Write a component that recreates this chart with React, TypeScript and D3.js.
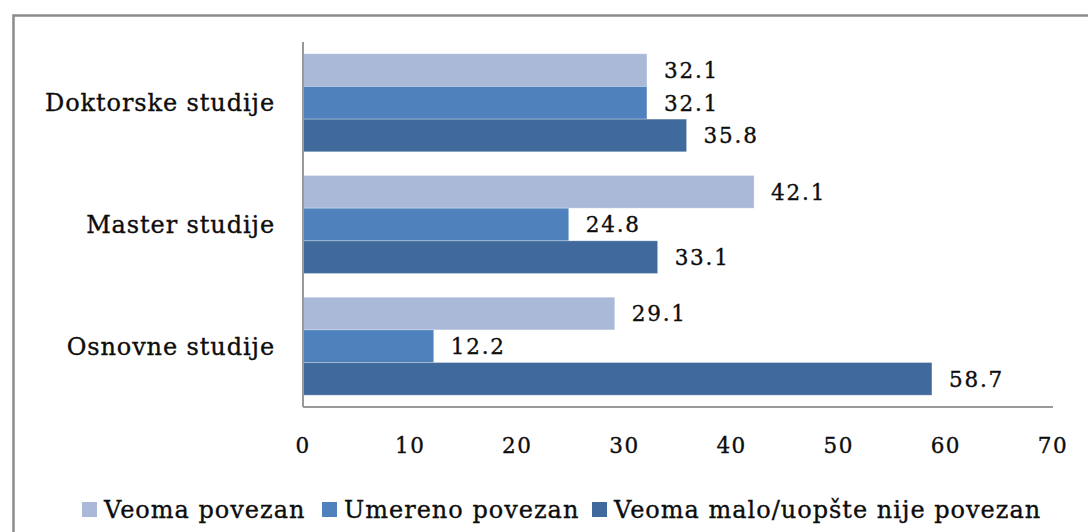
import React, { useEffect, useRef } from "react";
import * as d3 from "d3";

const categories = ["Doktorske studije", "Master studije", "Osnovne studije"];
const seriesNames = ["Veoma povezan", "Umereno povezan", "Veoma malo/uopšte nije povezan"];
const veomaPovezan = [32.1, 42.1, 29.1];
const umerenoPovezan = [32.1, 24.8, 12.2];
const veomaMalo = [35.8, 33.1, 58.7];
const xTicks = [0, 10, 20, 30, 40, 50, 60, 70];

const colors = ["#aab9d7", "#4f81bd", "#416a9c"];
const font = "'DejaVu Serif', 'Liberation Serif', serif";

// slightly heavier text, like the original
const styleText = (sel, size, spacing) =>
    sel.attr("font-family", font)
        .attr("font-size", size)
        .attr("letter-spacing", spacing)
        .attr("fill", "#0d0d0d")
        .attr("stroke", "#0d0d0d")
        .attr("stroke-width", 0.35);

const App = () => {
    const svgRef = useRef(null);

    useEffect(() => {
        const svg = d3.select(svgRef.current);
        svg.selectAll("*").remove();

        const width = 1088;
        const height = 532;
        const left = 303;
        const right = 1053;
        const top = 42;
        const bottom = 407;

        // outer frame (runs off the right and bottom edges)
        svg.append("rect")
            .attr("x", 13.5)
            .attr("y", 15.5)
            .attr("width", width)
            .attr("height", height)
            .attr("fill", "none")
            .attr("stroke", "#8c8c8c")
            .attr("stroke-width", 2.5);

        const x = d3.scaleLinear().domain([0, 70]).range([left, right]);
        const y = d3.scaleBand().domain(categories).range([top, bottom]).paddingInner(0.195).paddingOuter(0.097);
        const inner = d3.scaleBand().domain(["0", "1", "2"]).range([0, y.bandwidth()]);

        const series = [veomaPovezan, umerenoPovezan, veomaMalo];

        series.forEach((vals, si) => {
            const g = svg.append("g");
            g.selectAll("rect")
                .data(vals)
                .enter()
                .append("rect")
                .attr("x", x(0))
                .attr("y", (d, i) => y(categories[i]) + inner(String(si)))
                .attr("width", (d) => x(d) - x(0))
                .attr("height", inner.bandwidth())
                .attr("fill", colors[si])
                .attr("stroke", "rgba(255,255,255,0.35)")
                .attr("stroke-width", 0.8);

            g.selectAll("text")
                .data(vals)
                .enter()
                .append("text")
                .attr("x", (d) => x(d) + 17)
                .attr("y", (d, i) => y(categories[i]) + inner(String(si)) + inner.bandwidth() / 2)
                .attr("dy", "0.36em")
                .call(styleText, 21.5, 1.8)
                .text((d) => d.toFixed(1));
        });

        // axes
        svg.append("line")
            .attr("x1", left).attr("x2", left)
            .attr("y1", top).attr("y2", bottom)
            .attr("stroke", "#999").attr("stroke-width", 2);
        svg.append("line")
            .attr("x1", left).attr("x2", right)
            .attr("y1", bottom).attr("y2", bottom)
            .attr("stroke", "#999").attr("stroke-width", 2);

        svg.append("g")
            .selectAll("text")
            .data(xTicks)
            .enter()
            .append("text")
            .attr("x", (d) => x(d))
            .attr("y", 445)
            .attr("dy", "0.36em")
            .attr("text-anchor", "middle")
            .call(styleText, 21.5, 1.5)
            .text((d) => d);

        svg.append("g")
            .selectAll("text")
            .data(categories)
            .enter()
            .append("text")
            .attr("x", 275)
            .attr("y", (d) => y(d) + y.bandwidth() / 2)
            .attr("dy", "0.36em")
            .attr("text-anchor", "end")
            .call(styleText, 24, 0.9)
            .text((d) => d);

        // legend
        const legendX = [82, 322, 592];
        const legend = svg.append("g");
        seriesNames.forEach((name, i) => {
            legend.append("rect")
                .attr("x", legendX[i])
                .attr("y", 502)
                .attr("width", 15)
                .attr("height", 15)
                .attr("fill", colors[i]);
            legend.append("text")
                .attr("x", legendX[i] + 22)
                .attr("y", 509)
                .attr("dy", "0.36em")
                .call(styleText, 24, 1)
                .text(name);
        });
    }, []);

    return (
        <div style={{ position: "absolute", left: 0, top: 0, width: 1088, height: 532, background: "#fff" }}>
            <svg ref={svgRef} width={1088} height={532}></svg>
        </div>
    );
};

export default App;
